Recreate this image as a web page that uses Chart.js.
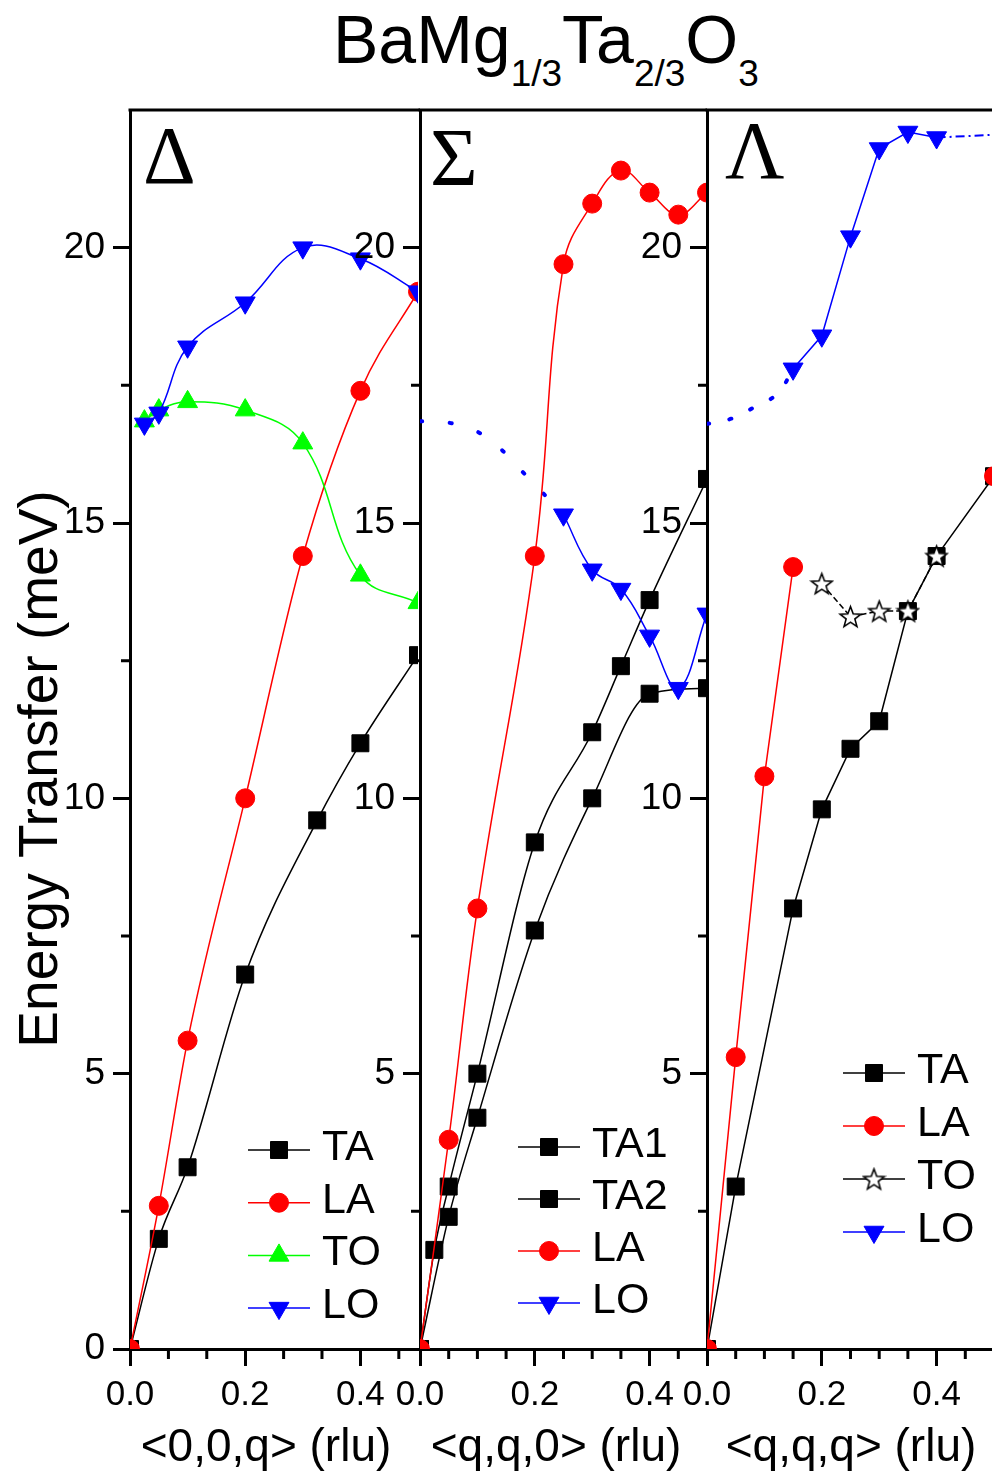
<!DOCTYPE html>
<html>
<head>
<meta charset="utf-8">
<script src="https://cdn.jsdelivr.net/npm/chart.js@4.4.1/dist/chart.umd.min.js"></script>
<style>
  html, body { margin: 0; padding: 0; background: #fff; overflow: hidden; }
  #wrap { position: relative; width: 992px; height: 1481px; overflow: hidden; background: #fff; }
  #wrap canvas { position: absolute; top: 0; }
  #title { position: absolute; left: 333px; top: 5px; font: 68px "Liberation Sans", Arial, sans-serif;
           line-height: 1; white-space: nowrap; color: #000; }
  #title .s { font-size: 37px; vertical-align: -23px; }
</style>
</head>
<body>
<div id="wrap">
  <div id="title">BaMg<span class="s">1/3</span>Ta<span class="s">2/3</span>O<span class="s">3</span></div>
</div>
<script>
// ---------------- data ----------------
// shared axes
const yTickValues = [0, 5, 10, 15, 20];
const yMinorTicks = [2.5, 7.5, 12.5, 17.5];
const xTickValues = [0.0, 0.2, 0.4];
const xMinorTicksDelta = [0.0667, 0.1333, 0.2667, 0.3333, 0.4667];
const xMinorTicksSigma = [0.05, 0.1, 0.15, 0.25, 0.3, 0.35, 0.45];
const xMinorTicksLambda = [0.05, 0.1, 0.15, 0.25, 0.3, 0.35, 0.45];
const yTitle = 'Energy Transfer (meV)';
const panelSymbols = ['Δ', 'Σ', 'Λ'];
const xTitles = ['<0,0,q> (rlu)', '<q,q,0> (rlu)', '<q,q,q> (rlu)'];

// Panel Δ  <0,0,q>
const deltaTA_q = [0, 0.05, 0.1, 0.2, 0.325, 0.4, 0.5];
const deltaTA_E = [0, 2.0, 3.3, 6.8, 9.6, 11.0, 12.6];
const deltaLA_q = [0, 0.05, 0.1, 0.2, 0.3, 0.4, 0.5];
const deltaLA_E = [0, 2.6, 5.6, 10.0, 14.4, 17.4, 19.2];
const deltaTO_q = [0.025, 0.05, 0.1, 0.2, 0.3, 0.4, 0.5];
const deltaTO_E = [16.85, 17.05, 17.2, 17.05, 16.45, 14.05, 13.55];
const deltaLO_q = [0.025, 0.05, 0.1, 0.2, 0.3, 0.4, 0.5];
const deltaLO_E = [16.8, 17.0, 18.2, 19.0, 20.0, 19.8, 19.2];

// Panel Σ  <q,q,0>
const sigmaTA1_q = [0, 0.025, 0.05, 0.1, 0.2, 0.3, 0.35, 0.4, 0.5];
const sigmaTA1_E = [0, 1.8, 2.95, 5.0, 9.2, 11.2, 12.4, 13.6, 15.8];
const sigmaTA2_q = [0, 0.05, 0.1, 0.2, 0.3, 0.4, 0.5];
const sigmaTA2_E = [0, 2.4, 4.2, 7.6, 10.0, 11.9, 12.0];
const sigmaLA_q = [0, 0.05, 0.1, 0.2, 0.25, 0.3, 0.35, 0.4, 0.45, 0.5];
const sigmaLA_E = [0, 3.8, 8.0, 14.4, 19.7, 20.8, 21.4, 21.0, 20.6, 21.0];
const sigmaLO_q = [0.25, 0.3, 0.35, 0.4, 0.45, 0.5];
const sigmaLO_E = [15.15, 14.15, 13.8, 12.95, 12.0, 13.35];
const sigmaLOguide_q = [0, 0.06, 0.117, 0.172, 0.25];
const sigmaLOguide_E = [16.85, 16.8, 16.55, 16.0, 15.15];

// Panel Λ  <q,q,q>
const lambdaTA_q = [0, 0.05, 0.15, 0.2, 0.25, 0.3, 0.35, 0.4, 0.5];
const lambdaTA_E = [0, 2.95, 8.0, 9.8, 10.9, 11.4, 13.4, 14.4, 15.85];
const lambdaLA_q = [0, 0.05, 0.1, 0.15];
const lambdaLA_E = [0, 5.3, 10.4, 14.2];
const lambdaLAzb_q = [0.5];
const lambdaLAzb_E = [15.85];
const lambdaTO_q = [0.2, 0.25, 0.3, 0.35, 0.4];
const lambdaTO_E = [13.9, 13.3, 13.4, 13.4, 14.4];
const lambdaLO_q = [0.15, 0.2, 0.25, 0.3, 0.35, 0.4];
const lambdaLO_E = [17.8, 18.4, 20.2, 21.8, 22.1, 22.0];
const lambdaLOguide_q = [0, 0.044, 0.082, 0.123, 0.15];
const lambdaLOguide_E = [16.8, 16.9, 17.1, 17.35, 17.8];
const lambdaLOtail_q = [0.4, 0.5];
const lambdaLOtail_E = [22.0, 22.05];

// ---------------- helpers ----------------
const FONT = '"Liberation Sans", Arial, sans-serif';
const BLACK = '#000000', RED = '#ff0000', GREEN = '#00ff00', BLUE = '#0000ff';
const pts = (xs, ys) => xs.map((x, i) => ({ x: x, y: ys[i] }));

function makeStar() {
  const c = document.createElement('canvas');
  c.width = 25; c.height = 25;
  const g = c.getContext('2d');
  const cx = 12.5, cy = 13.5, R = 11, r = 4.6;
  g.beginPath();
  for (let i = 0; i < 10; i++) {
    const ang = -Math.PI / 2 + i * Math.PI / 5;
    const rad = (i % 2) ? r : R;
    g.lineTo(cx + rad * Math.cos(ang), cy + rad * Math.sin(ang));
  }
  g.closePath();
  g.fillStyle = '#fff'; g.fill();
  g.lineWidth = 1.6; g.strokeStyle = '#000'; g.stroke();
  return c;
}
const STAR = makeStar();

const MARK = {
  square: { pointStyle: 'rect', pointRadius: 12, pointRotation: 0 },
  circle: { pointStyle: 'circle', pointRadius: 9.5, pointRotation: 0 },
  up: { pointStyle: 'triangle', pointRadius: 11.5, pointRotation: 0 },
  down: { pointStyle: 'triangle', pointRadius: 11.5, pointRotation: 180 },
  star: { pointStyle: STAR, pointRadius: 11, pointRotation: 0 },
  none: { pointStyle: 'circle', pointRadius: 0, pointRotation: 0 }
};

function series(label, xs, ys, color, mark, extra) {
  const m = MARK[mark];
  return Object.assign({
    label: label,
    data: pts(xs, ys),
    showLine: true,
    borderColor: color,
    backgroundColor: color,
    borderWidth: 1.5,
    pointBackgroundColor: color,
    pointBorderColor: color,
    pointBorderWidth: 1,
    pointStyle: m.pointStyle,
    pointRadius: m.pointRadius,
    pointHoverRadius: m.pointRadius,
    pointRotation: m.pointRotation,
    tension: 0.4,
    clip: 0,
    inLegend: true,
    order: 5
  }, extra || {});
}
const MONO = { cubicInterpolationMode: 'monotone' };

// ---------------- decoration plugin ----------------
const panelDeco = {
  id: 'panelDeco',
  afterDraw(chart, args, o) {
    const ctx = chart.ctx, a = chart.chartArea;
    const xs = chart.scales.x, ys = chart.scales.y;
    ctx.save();
    // top frame line
    ctx.strokeStyle = '#000'; ctx.lineWidth = 3; ctx.lineCap = 'butt';
    ctx.beginPath();
    ctx.moveTo(a.left - 1.5, a.top); ctx.lineTo(a.right + 2, a.top);
    ctx.stroke();
    // minor ticks
    ctx.beginPath();
    o.minorX.forEach(v => {
      const px = xs.getPixelForValue(v);
      ctx.moveTo(px, a.bottom); ctx.lineTo(px, a.bottom + 10);
    });
    yMinorTicks.forEach(v => {
      const py = ys.getPixelForValue(v);
      ctx.moveTo(a.left, py); ctx.lineTo(a.left - 9, py);
    });
    ctx.stroke();
    // panel symbol
    ctx.fillStyle = '#000';
    ctx.font = '82px "Liberation Serif", "Times New Roman", serif';
    ctx.textAlign = 'left'; ctx.textBaseline = 'alphabetic';
    ctx.fillText(o.symbol, a.left + o.symDx, o.symBase);
    // x axis title
    ctx.font = '46px ' + FONT;
    ctx.textAlign = 'center';
    ctx.fillText(o.xTitle, a.left + o.xTitleDx, 1461);
    // legend
    const items = chart.data.datasets.filter(d => d.inLegend);
    items.forEach((d, i) => {
      const yy = o.legY + i * o.legDy;
      const lx = a.left + o.legX;
      ctx.strokeStyle = d.borderColor; ctx.lineWidth = 1.5;
      ctx.setLineDash([]);
      ctx.beginPath(); ctx.moveTo(lx, yy); ctx.lineTo(lx + 62, yy); ctx.stroke();
      ctx.fillStyle = d.pointBackgroundColor; ctx.strokeStyle = d.pointBorderColor;
      ctx.lineWidth = 1;
      Chart.helpers.drawPoint(ctx, { pointStyle: d.pointStyle, rotation: d.pointRotation, radius: d.pointRadius, borderWidth: 1 }, lx + 31, yy);
      ctx.fillStyle = '#000';
      ctx.font = '43px ' + FONT;
      ctx.textAlign = 'left'; ctx.textBaseline = 'alphabetic';
      ctx.fillText(d.label, lx + 74, yy + 10);
    });
    // y title (first panel only)
    if (o.yTitle) {
      ctx.translate(57, 769);
      ctx.rotate(-Math.PI / 2);
      ctx.font = '55px ' + FONT;
      ctx.textAlign = 'center'; ctx.textBaseline = 'alphabetic';
      ctx.fillStyle = '#000';
      ctx.fillText(o.yTitle, 0, 0);
    }
    ctx.restore();
  }
};

// ---------------- panels ----------------
const wrap = document.getElementById('wrap');

function makePanel(cfg) {
  const canvas = document.createElement('canvas');
  canvas.width = cfg.canvasW; canvas.height = 1481;
  canvas.style.left = cfg.canvasLeft + 'px';
  canvas.style.width = cfg.canvasW + 'px';
  canvas.style.height = '1481px';
  wrap.appendChild(canvas);
  const axisCommon = {
    grid: { display: true, drawOnChartArea: false, drawTicks: true, tickLength: 17,
            tickWidth: 3, tickColor: '#000', color: '#000', lineWidth: 3 },
    border: { display: true, width: 3, color: '#000' }
  };
  return new Chart(canvas, {
    type: 'scatter',
    data: { datasets: cfg.datasets },
    options: {
      responsive: false, animation: false, devicePixelRatio: 1,
      events: [],
      layout: { autoPadding: false, padding: { left: 0, right: cfg.padRight, top: 110, bottom: 0 } },
      plugins: {
        legend: { display: false }, tooltip: { enabled: false },
        panelDeco: cfg.deco
      },
      scales: {
        x: Object.assign({
          type: 'linear', min: 0, max: 0.5,
          afterBuildTicks: s => { s.ticks = xTickValues.map(v => ({ value: v })); },
          afterFit: s => { s.height = 132; },
          ticks: { callback: v => Number(v).toFixed(1), font: { size: 35, family: FONT },
                   color: '#000', padding: 8, maxRotation: 0, autoSkip: false },
          title: { display: false }
        }, axisCommon),
        y: Object.assign({
          type: 'linear', min: 0, max: 22.5,
          afterBuildTicks: s => { s.ticks = yTickValues.map(v => ({ value: v })); },
          afterFit: s => { s.width = cfg.yAxisW; },
          ticks: { callback: v => (cfg.hideZero && v === 0) ? '' : String(v),
                   font: { size: 37, family: FONT },
                   color: '#000', padding: 8, autoSkip: false }
        }, axisCommon)
      }
    },
    plugins: [panelDeco]
  });
}

// Panel Δ
makePanel({
  canvasLeft: 0, canvasW: 430, yAxisW: 130, padRight: 12, hideZero: false,
  deco: { minorX: xMinorTicksDelta, symbol: panelSymbols[0], symDx: 13, symBase: 183,
          xTitle: xTitles[0], xTitleDx: 136,
          legX: 118, legY: 1150, legDy: 52.7, yTitle: yTitle },
  datasets: [
    series('TA', deltaTA_q, deltaTA_E, BLACK, 'square', Object.assign({ order: 4 }, MONO)),
    series('LA', deltaLA_q, deltaLA_E, RED, 'circle', Object.assign({ order: 3 }, MONO)),
    series('TO', deltaTO_q, deltaTO_E, GREEN, 'up', { order: 2 }),
    series('LO', deltaLO_q, deltaLO_E, BLUE, 'down', { order: 1 })
  ]
});

// Panel Σ
makePanel({
  canvasLeft: 300, canvasW: 407, yAxisW: 120, padRight: 0, hideZero: true,
  deco: { minorX: xMinorTicksSigma, symbol: panelSymbols[1], symDx: 10, symBase: 185,
          xTitle: xTitles[1], xTitleDx: 136,
          legX: 98, legY: 1147, legDy: 52 },
  datasets: [
    series('TA1', sigmaTA1_q, sigmaTA1_E, BLACK, 'square', Object.assign({ order: 4 }, MONO)),
    series('TA2', sigmaTA2_q, sigmaTA2_E, BLACK, 'square', Object.assign({ order: 4 }, MONO)),
    series('LA', sigmaLA_q, sigmaLA_E, RED, 'circle', { order: 3 }),
    series('LO', sigmaLO_q, sigmaLO_E, BLUE, 'down', { order: 1 }),
    series('LO guide', sigmaLOguide_q, sigmaLOguide_E, BLUE, 'none',
           { inLegend: false, borderWidth: 4, borderDash: [2, 28], borderCapStyle: 'round', order: 6 })
  ]
});

// Panel Λ
makePanel({
  canvasLeft: 600, canvasW: 400, yAxisW: 107, padRight: 6, hideZero: true,
  deco: { minorX: xMinorTicksLambda, symbol: panelSymbols[2], symDx: 18, symBase: 178,
          xTitle: xTitles[2], xTitleDx: 144,
          legX: 136, legY: 1073, legDy: 53 },
  datasets: [
    series('TA', lambdaTA_q, lambdaTA_E, BLACK, 'square', { order: 4, tension: 0 }),
    series('LA', lambdaLA_q, lambdaLA_E, RED, 'circle', { order: 3, tension: 0 }),
    series('TO', lambdaTO_q, lambdaTO_E, BLACK, 'star', { order: 0, tension: 0, borderDash: [6, 3],
           pointBackgroundColor: '#ffffff' }),
    series('LO', lambdaLO_q, lambdaLO_E, BLUE, 'down', { order: 1, tension: 0 }),
    series('LA zb', lambdaLAzb_q, lambdaLAzb_E, RED, 'circle', { inLegend: false, showLine: false, order: 2 }),
    series('LO guide', lambdaLOguide_q, lambdaLOguide_E, BLUE, 'none',
           { inLegend: false, borderWidth: 4, borderDash: [2, 21], borderCapStyle: 'round', order: 6 }),
    series('LO tail', lambdaLOtail_q, lambdaLOtail_E, BLUE, 'none',
           { inLegend: false, borderWidth: 2, borderDash: [9, 4, 2, 4], tension: 0, order: 6 })
  ]
});
</script>
</body>
</html>
